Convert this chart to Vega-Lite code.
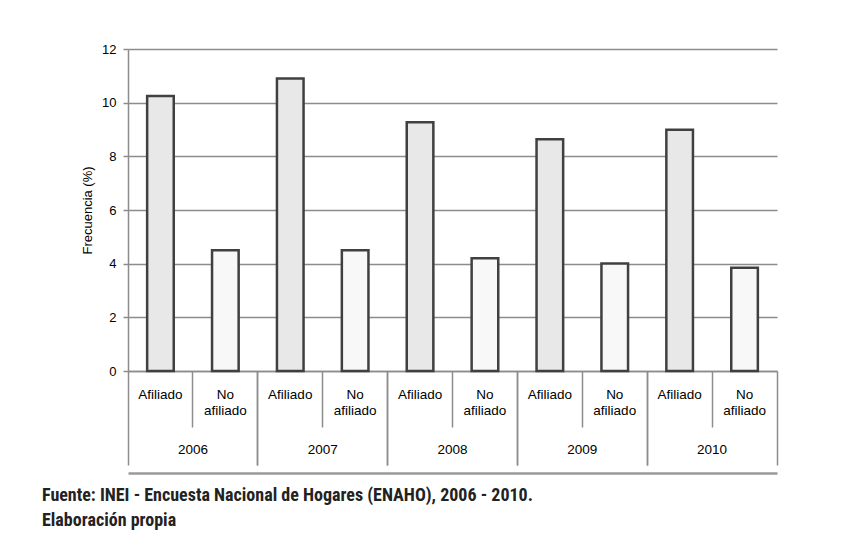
{
  "$schema": "https://vega.github.io/schema/vega-lite/v6.json",
  "width": 649,
  "height": 322,
  "autosize": {"type": "none"},
  "padding": {"left": 128, "top": 49, "right": 81, "bottom": 167},
  "background": "white",
  "data": {
    "values": [
      {"cat": "2006-A", "year": "2006", "grupo": "Afiliado", "v": 10.25},
      {"cat": "2006-N", "year": "2006", "grupo": "No afiliado", "v": 4.5},
      {"cat": "2007-A", "year": "2007", "grupo": "Afiliado", "v": 10.9},
      {"cat": "2007-N", "year": "2007", "grupo": "No afiliado", "v": 4.5},
      {"cat": "2008-A", "year": "2008", "grupo": "Afiliado", "v": 9.27},
      {"cat": "2008-N", "year": "2008", "grupo": "No afiliado", "v": 4.2},
      {"cat": "2009-A", "year": "2009", "grupo": "Afiliado", "v": 8.64},
      {"cat": "2009-N", "year": "2009", "grupo": "No afiliado", "v": 4.01},
      {"cat": "2010-A", "year": "2010", "grupo": "Afiliado", "v": 8.99},
      {"cat": "2010-N", "year": "2010", "grupo": "No afiliado", "v": 3.85}
    ]
  },
  "layer": [
    {
      "mark": {"type": "bar", "width": {"band": 0.41}, "stroke": "#404040", "strokeWidth": 2.5},
      "encoding": {
        "x": {
          "field": "cat", "type": "nominal", "sort": null,
          "scale": {"paddingInner": 0, "paddingOuter": 0},
          "axis": {
            "orient": "bottom",
            "title": null, "ticks": false, "labelAngle": 0, "labelOverlap": false,
            "labelFontSize": 13.5,
            "labelPadding": 16, "labelBaseline": "top", "labelLineHeight": 16.5,
            "labelExpr": "indexof(datum.value,'-A')>=0 ? 'Afiliado' : ['No','afiliado']",
            "domainColor": "#8c8c8c", "domainWidth": 1.5
          }
        },
        "y": {
          "field": "v", "type": "quantitative",
          "scale": {"domain": [0, 12]},
          "axis": {
            "orient": "left",
            "title": "Frecuencia (%)", "values": [0, 2, 4, 6, 8, 10, 12],
            "grid": true, "gridColor": "#8c8c8c", "gridWidth": 1.5,
            "domainColor": "#8c8c8c", "domainWidth": 1.5,
            "tickColor": "#8c8c8c", "tickSize": 5, "tickWidth": 1.5,
            "labelPadding": 7, "titlePadding": 7
          }
        },
        "fill": {
          "field": "grupo", "type": "nominal",
          "scale": {"domain": ["Afiliado", "No afiliado"], "range": ["#e8e8e8", "#f8f8f8"]},
          "legend": null
        }
      }
    },
    {
      "mark": {"type": "bar", "opacity": 0},
      "encoding": {
        "x": {
          "field": "cat", "type": "nominal", "sort": null,
          "axis": {
            "orient": "bottom",
            "title": null, "domain": false, "labels": false, "ticks": true, "bandPosition": 1,
            "tickColor": "#8c8c8c", "tickWidth": 1.5,
            "tickSize": {"condition": {"test": "indexof(datum.value,'-A')>=0", "value": 56}, "value": 94}
          }
        }
      }
    },
    {
      "mark": {"type": "bar", "opacity": 0},
      "encoding": {
        "x": {
          "field": "cat", "type": "nominal", "sort": null,
          "axis": {
            "orient": "bottom",
            "title": null, "domain": false, "labels": false, "ticks": true, "bandPosition": 0,
            "tickColor": "#8c8c8c", "tickWidth": 1.5,
            "tickSize": {"condition": {"test": "indexof(datum.value,'-A')>=0", "value": 94}, "value": 0}
          }
        }
      }
    },
    {
      "mark": {"type": "bar", "opacity": 0},
      "encoding": {
        "x": {
          "field": "cat", "type": "nominal", "sort": null,
          "axis": {
            "orient": "bottom",
            "title": null, "domain": false, "ticks": false,
            "labelAngle": 0, "labelOverlap": false, "labelBaseline": "top", "labelPadding": 71,
            "labelFontSize": 13.5, "labelOffset": 32.45,
            "labelExpr": "indexof(datum.value,'-A')>=0 ? slice(datum.value,0,4) : ''"
          }
        }
      }
    },
    {
      "mark": {"type": "bar", "opacity": 0},
      "encoding": {
        "x": {
          "field": "cat", "type": "nominal", "sort": null,
          "axis": {
            "orient": "bottom",
            "title": null, "domain": true, "domainColor": "#9a9a9a", "domainWidth": 2.5,
            "ticks": false, "labels": false, "offset": 102
          }
        }
      }
    }
  ],
  "resolve": {"axis": {"x": "independent"}},
  "title": {
    "text": ["Fuente: INEI - Encuesta Nacional de Hogares (ENAHO), 2006 - 2010.", "Elaboración  propia"],
    "orient": "bottom", "anchor": "start", "frame": "group",
    "dx": -86, "offset": 14, "baseline": "top",
    "font": "Liberation Sans Narrow, Arial Narrow, Roboto Condensed, Liberation Sans",
    "fontSize": 18, "fontWeight": "bold", "color": "#222222", "lineHeight": 25
  },
  "config": {
    "view": {"stroke": null},
    "axis": {
      "labelFont": "Liberation Sans", "labelFontSize": 13, "labelColor": "#000000",
      "titleFont": "Liberation Sans", "titleFontSize": 13, "titleFontWeight": "normal", "titleColor": "#000000"
    }
  }
}
